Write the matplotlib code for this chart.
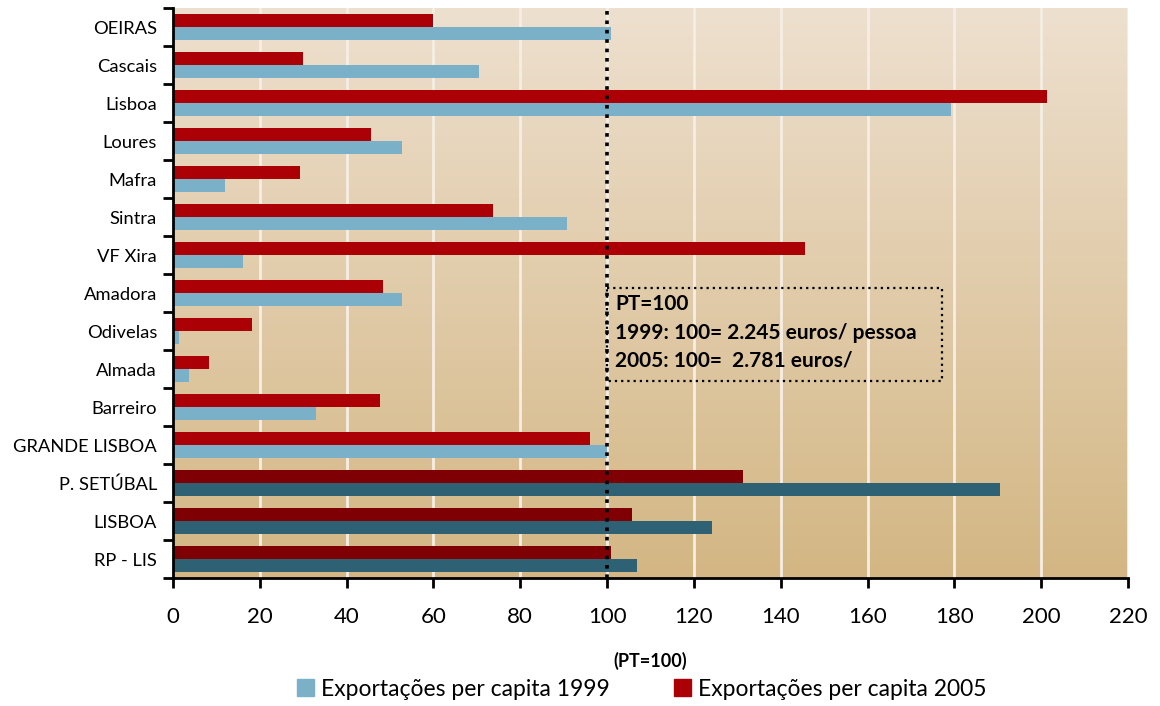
import numpy as np
import matplotlib.pyplot as plt
from matplotlib.patches import Rectangle
from matplotlib.colors import LinearSegmentedColormap

# data (PT=100)
regions = ['OEIRAS', 'Cascais', 'Lisboa', 'Loures', 'Mafra', 'Sintra', 'VF Xira',
           'Amadora', 'Odivelas', 'Almada', 'Barreiro', 'GRANDE LISBOA',
           'P. SETÚBAL', 'LISBOA', 'RP - LIS']
exp_1999 = [101, 70.5, 179.2, 52.7, 12, 90.8, 16.1, 52.7, 1.4, 3.7, 32.9, 100,
            190.5, 124.2, 106.9]
exp_2005 = [60, 30, 201.3, 45.6, 29.3, 73.7, 145.6, 48.4, 18.2, 8.3, 47.7, 96,
            131.3, 105.7, 100.9]
n_highlight = 3  # last rows drawn in darker tones
x_ticks = list(range(0, 221, 20))
note_lines = ['PT=100', '1999: 100= 2.245 euros/ pessoa', '2005: 100=  2.781 euros/']

FONT = 'Lato'
plt.rcParams['font.family'] = [FONT, 'DejaVu Sans']

fig = plt.figure(figsize=(11.6, 7.06), dpi=100)
ax = fig.add_axes([173 / 1160, 1 - 578 / 706, 955 / 1160, 570 / 706])

n = len(regions)
y = np.arange(n)
h = 0.34

c_blue = ['#7AB1C8'] * (n - n_highlight) + ['#2E6174'] * n_highlight
c_red = ['#AA0006'] * (n - n_highlight) + ['#7E0005'] * n_highlight

ax.barh(y - h / 2, exp_2005, height=h, color=c_red, zorder=3)
ax.barh(y + h / 2, exp_1999, height=h, color=c_blue, zorder=3)

ax.set_xlim(0, 220)
ax.set_ylim(n - 0.5, -0.5)

# gradient background
cmap = LinearSegmentedColormap.from_list('bg', ['#EEE0CF', '#D3B683'])
grad = np.linspace(0, 1, 256).reshape(-1, 1)
ax.imshow(grad, cmap=cmap, aspect='auto', extent=[0, 220, n - 0.5, -0.5], zorder=0)
for xv in x_ticks[1:]:
    ax.axvline(xv, color='#F6EEE4', lw=2, zorder=1)

# reference line at PT=100
ax.axvline(100, color='black', lw=2.6, ls=(0, (1, 1.6)), zorder=4)

# note box
ax.add_patch(Rectangle((100, 6.87), 77.1, 2.45, fill=False, ec='black', lw=1.6,
                       ls=(0, (1, 1.8)), zorder=4))
for i, line in enumerate(note_lines):
    ax.text(101.8, 7.3 + i * 0.74, line, fontsize=15, fontweight='bold',
            va='center', ha='left', zorder=5)

# axes styling
for s in ['top', 'right']:
    ax.spines[s].set_visible(False)
ax.spines['left'].set_linewidth(2)
ax.spines['bottom'].set_linewidth(2)
ax.spines['left'].set_zorder(6)
ax.spines['bottom'].set_zorder(6)

ax.set_yticks(y)
ax.set_yticklabels(regions, fontsize=13.2)
ax.set_yticks(np.arange(-0.5, n, 1), minor=True)
ax.tick_params(axis='y', which='major', length=0, pad=11.5)
ax.tick_params(axis='y', which='minor', length=7, width=2, direction='out')

ax.set_xticks(x_ticks)
ax.tick_params(axis='x', length=7, width=2, direction='out', pad=14, labelsize=16)
ax.set_xlabel('(PT=100)', fontsize=13, fontweight='bold', labelpad=18)

handles = [Rectangle((0, 0), 1, 1, color='#7AB1C8'), Rectangle((0, 0), 1, 1, color='#AA0006')]
fig.legend(handles, ['Exportações per capita 1999', 'Exportações per capita 2005'],
           loc='center', bbox_to_anchor=(0.553, 0.024), ncol=2, frameon=False,
           fontsize=16.5, handlelength=0.75, handleheight=0.75, handletextpad=0.3,
           columnspacing=2.8)

fig.savefig('out.png', dpi=100)
